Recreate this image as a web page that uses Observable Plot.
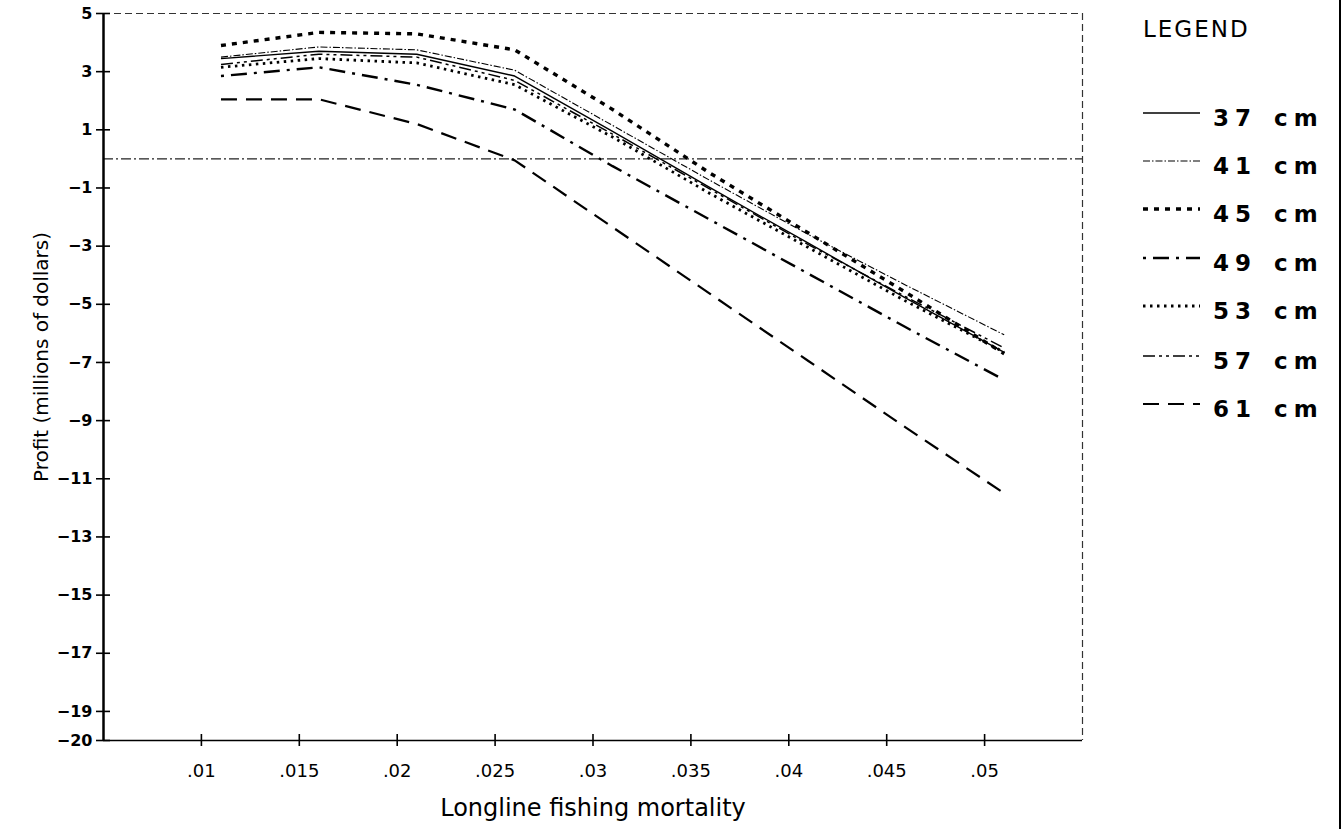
<!DOCTYPE html>
<html><head><meta charset="utf-8">
<script src="https://cdn.jsdelivr.net/npm/d3@7"></script>
<script src="https://cdn.jsdelivr.net/npm/@observablehq/plot@0.6"></script>
<style>
body{margin:0;background:#fff;}
#wrap{position:relative;width:1343px;height:829px;overflow:hidden;font-family:"DejaVu Sans",sans-serif;color:#000;}
#wrap svg{position:absolute;left:0;top:0;}
g[aria-label="ytl"] text{font-weight:bold;letter-spacing:2px;}
g[aria-label="xtl"] text{letter-spacing:2.5px;}
g[aria-label="xtitle"] text{letter-spacing:2px;}
g[aria-label="ytitle"] text{letter-spacing:0.5px;}
.lg{position:absolute;font-family:"DejaVu Sans",sans-serif;}
#legtitle{left:1143px;top:16px;font-size:23px;letter-spacing:2px;}
.row{position:absolute;left:1140px;height:30px;width:203px;}
.row svg{position:absolute;left:0;top:10px;}
.row span{position:absolute;left:73px;top:-2px;font-size:23px;font-weight:bold;letter-spacing:6px;word-spacing:3px;white-space:nowrap;}
#edge{position:absolute;left:1339px;top:0;width:2px;height:829px;background:#000;}
</style></head><body><div id="wrap"></div>
<script>
// Longline fishing mortality (x) and profit in millions of dollars (y), one array per size limit
const mortality = [0.011, 0.016, 0.021, 0.026, 0.031, 0.036, 0.041, 0.046, 0.051];
const sizes = ["37 cm", "41 cm", "45 cm", "49 cm", "53 cm", "57 cm", "61 cm"];
const profit37 = [3.45, 3.70, 3.60, 2.85, 0.95, -1.00, -2.90, -4.80, -6.65];
const profit41 = [3.50, 3.85, 3.75, 3.05, 1.15, -0.75, -2.60, -4.35, -6.05];
const profit45 = [3.90, 4.35, 4.30, 3.75, 1.70, -0.50, -2.55, -4.60, -6.70];
const profit49 = [2.85, 3.15, 2.55, 1.70, -0.25, -2.10, -3.95, -5.80, -7.60];
const profit53 = [3.15, 3.45, 3.30, 2.55, 0.75, -1.20, -3.05, -4.90, -6.65];
const profit57 = [3.25, 3.60, 3.50, 2.70, 0.85, -1.05, -2.95, -4.75, -6.50];
const profit61 = [2.05, 2.05, 1.20, -0.05, -2.35, -4.65, -6.95, -9.25, -11.50];
const profitSeries = [profit37, profit41, profit45, profit49, profit53, profit57, profit61];

const xTicks = [0.01, 0.015, 0.02, 0.025, 0.03, 0.035, 0.04, 0.045, 0.05];
const xTickLabels = [".01", ".015", ".02", ".025", ".03", ".035", ".04", ".045", ".05"];
const yTicks = [5, 3, 1, -1, -3, -5, -7, -9, -11, -13, -15, -17, -19, -20];
const xDomain = [0.005, 0.055];
const yDomain = [-20, 5];

// line styles per series (not data)
const styles = [
  {dash: null, w: 1.4},
  {dash: "7,2,1.5,2", w: 1.1},
  {dash: "5,6", w: 3.4},
  {dash: "3,7,16,7", w: 2.4},
  {dash: "2.5,4.5", w: 2.8},
  {dash: "12,4,3,4,3,4", w: 1.5},
  {dash: "16,9", w: 2.2}
];

const rows = sizes.map((s, i) => mortality.map((m, j) => ({size: s, x: m, y: profitSeries[i][j]})));

const fmtY = d => d < 0 ? "\u2212" + Math.abs(d) : String(d);
const fmtX = d => xTickLabels[xTicks.indexOf(d)];

const lineMarks = rows.map((r, i) => Plot.line(r, {
  x: "x", y: "y", stroke: "#000", strokeWidth: styles[i].w,
  strokeDasharray: styles[i].dash || undefined, strokeLinecap: "butt", strokeLinejoin: "round"
}));

const chart = Plot.plot({
  width: 1343, height: 829,
  marginTop: 13, marginBottom: 89, marginLeft: 103, marginRight: 261,
  style: {fontFamily: "DejaVu Sans, sans-serif", color: "#000", background: "transparent"},
  x: {domain: xDomain},
  y: {domain: yDomain},
  marks: [
    Plot.ruleY([0], {stroke: "#222", strokeWidth: 1.2, strokeDasharray: "10,3,2,3"}),
    Plot.ruleY([5], {stroke: "#333", strokeWidth: 1, strokeDasharray: "7,4"}),
    Plot.ruleX([0.055], {stroke: "#333", strokeWidth: 1.2, strokeDasharray: "7,4"}),
    Plot.ruleY([-20], {stroke: "#000", strokeWidth: 1.6}),
    Plot.ruleX([0.005], {stroke: "#000", strokeWidth: 2.5}),
    Plot.axisY({ticks: yTicks, tickSize: 14, dx: 7, text: null, label: null, strokeWidth: 1.6}),
    Plot.axisX({ticks: xTicks, tickSize: 12, dy: -6, text: null, label: null, strokeWidth: 1.6}),
    Plot.axisY({ticks: yTicks, tickSize: 0, tickPadding: 11, tickFormat: fmtY, fontSize: 16, fontWeight: "bold", label: null, ariaLabel: "ytl"}),
    Plot.axisX({ticks: xTicks, tickSize: 0, tickPadding: 24, tickFormat: fmtX, fontSize: 18, label: null, ariaLabel: "xtl"}),
    Plot.text(["Longline fishing mortality"], {frameAnchor: "bottom", dy: 75, fontSize: 24, ariaLabel: "xtitle"}),
    Plot.text(["Profit (millions of dollars)"], {frameAnchor: "left", dx: -62, dy: -20, rotate: -90, textAnchor: "middle", fontSize: 20, ariaLabel: "ytitle"}),
    ...lineMarks
  ]
});

const wrap = document.getElementById("wrap");
wrap.appendChild(chart);

// legend
const t = document.createElement("div");
t.className = "lg"; t.id = "legtitle"; t.textContent = "LEGEND";
wrap.appendChild(t);
const rowTops = [107, 155, 203, 252, 300, 350, 398];
sizes.forEach((s, i) => {
  const r = document.createElement("div");
  r.className = "row lg";
  r.style.top = rowTops[i] + "px";
  const st = styles[i];
  r.innerHTML = `<svg width="62" height="12"><line x1="3" y1="6" x2="60" y2="6" stroke="#000" stroke-width="${st.w}" ${st.dash ? `stroke-dasharray="${st.dash}"` : ""}/></svg><span>${s}</span>`;
  wrap.appendChild(r);
});
const e = document.createElement("div"); e.id = "edge"; wrap.appendChild(e);
</script></body></html>
